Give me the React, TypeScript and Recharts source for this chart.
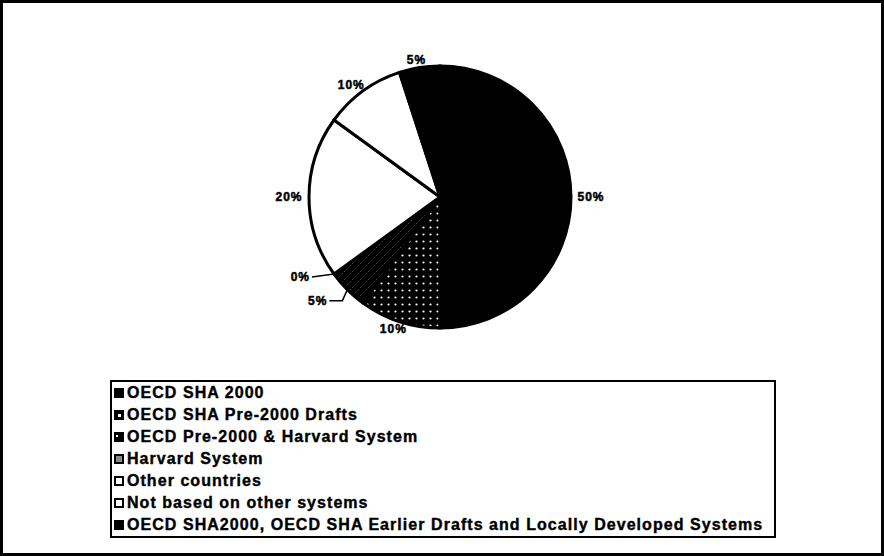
import { PieChart, Pie, Cell, Legend } from 'recharts';

const categories = [
  'OECD SHA 2000',
  'OECD SHA Pre-2000 Drafts',
  'OECD Pre-2000 & Harvard System',
  'Harvard System',
  'Other countries',
  'Not based on other systems',
  'OECD SHA2000, OECD SHA Earlier Drafts and Locally Developed Systems',
];

const shares = [50, 10, 5, 0, 20, 10, 5];

const sliceFills = ['#000', 'url(#dotFill)', 'url(#lineFill)', 'url(#grayFill)', '#fff', '#fff', '#000'];

const data = categories.map((name, i) => ({ name, value: shares[i] }));

const RADIAN = Math.PI / 180;
const font = '"Liberation Sans", Arial, Helvetica, sans-serif';

const labelStyle = {
  fontFamily: font,
  fontWeight: 700,
  fontSize: 12,
  letterSpacing: 1,
  fill: '#000',
  stroke: '#000',
  strokeWidth: 0.5,
};

function renderLabel(props: any) {
  const { cx, cy, midAngle, outerRadius, value } = props;
  const cos = Math.cos(-midAngle * RADIAN);
  const sin = Math.sin(-midAngle * RADIAN);
  const text = `${value}%`;

  // small slices in the lower left get a leader line
  if (value <= 5 && sin > 0 && cos < 0) {
    const sx = cx + outerRadius * cos;
    const sy = cy + outerRadius * sin;
    let pts: string;
    let ex: number;
    let ey: number;
    if (value === 0) {
      ex = sx - 22;
      ey = sy + 3;
      pts = `${sx},${sy} ${ex},${ey}`;
    } else {
      ex = sx - 18;
      ey = sy + 11;
      pts = `${sx},${sy} ${sx - 5},${ey} ${ex},${ey}`;
    }
    return (
      <g>
        <polyline points={pts} fill="none" stroke="#000" strokeWidth={1.5} />
        <text x={ex - 2} y={ey} textAnchor="end" dominantBaseline="central" style={labelStyle}>
          {text}
        </text>
      </g>
    );
  }

  const x = cx + (outerRadius + 20) * cos;
  const y = cy + (outerRadius + 8) * sin;
  return (
    <text x={x} y={y} textAnchor="middle" dominantBaseline="central" style={labelStyle}>
      {text}
    </text>
  );
}

function Marker({ index }: { index: number }) {
  const base = { width: 10, height: 10, boxSizing: 'border-box' as const, marginRight: 3, flexShrink: 0, position: 'relative' as const };
  if (index === 4 || index === 5) {
    return <div style={{ ...base, background: '#fff', border: '2px solid #000' }} />;
  }
  if (index === 3) {
    return <div style={{ ...base, background: '#8a8a8a', border: '2px solid #000' }} />;
  }
  return (
    <div style={{ ...base, background: '#000' }}>
      {index === 1 && (
        <div style={{ position: 'absolute', left: 4, top: 4, width: 3, height: 3, background: '#fff' }} />
      )}
      {index === 2 && (
        <div style={{ position: 'absolute', left: 2, top: 3, width: 2, height: 2, background: '#fff' }} />
      )}
    </div>
  );
}

function renderLegend() {
  return (
    <div
      style={{
        width: 666,
        height: 158,
        boxSizing: 'border-box',
        border: '2px solid #000',
        background: '#fff',
        paddingLeft: 2,
      }}
    >
      {categories.map((name, i) => (
        <div
          key={name}
          style={{
            display: 'flex',
            alignItems: 'center',
            height: 22,
            fontFamily: font,
            fontWeight: 700,
            fontSize: 16,
            letterSpacing: 1.05,
            color: '#000',
            whiteSpace: 'nowrap',
            WebkitTextStroke: '0.4px #000',
          }}
        >
          <Marker index={i} />
          <span>{name}</span>
        </div>
      ))}
    </div>
  );
}

export default function App() {
  return (
    <div style={{ position: 'absolute', left: 0, top: 0, width: 884, height: 556, background: '#fff' }}>
      <PieChart width={884} height={556} margin={{ top: 0, right: 0, bottom: 0, left: 0 }}>
        <defs>
          <pattern id="dotFill" width={7} height={7} patternUnits="userSpaceOnUse">
            <rect width={7} height={7} fill="#000" />
            <circle cx={3.5} cy={3.5} r={1.1} fill="#fff" />
          </pattern>
          <pattern id="lineFill" width={8} height={8} patternUnits="userSpaceOnUse">
            <rect width={8} height={8} fill="#000" />
            <line x1={0} y1={8} x2={8} y2={0} stroke="#777" strokeWidth={0.6} strokeDasharray="2 2" />
          </pattern>
          <pattern id="grayFill" width={4} height={4} patternUnits="userSpaceOnUse">
            <rect width={4} height={4} fill="#888" />
            <rect width={2} height={2} fill="#fff" />
          </pattern>
        </defs>
        <Pie
          data={data}
          dataKey="value"
          nameKey="name"
          cx={440}
          cy={197}
          outerRadius={131}
          startAngle={90}
          endAngle={-270}
          stroke="#000"
          strokeWidth={3}
          label={renderLabel}
          labelLine={false}
          isAnimationActive={false}
        >
          {data.map((entry, index) => (
            <Cell key={`cell-${index}`} fill={sliceFills[index]} />
          ))}
        </Pie>
        <Legend
          content={renderLegend}
          wrapperStyle={{ position: 'absolute', left: 110, top: 380, width: 666 }}
        />
      </PieChart>
      <div
        style={{
          position: 'absolute',
          left: 0,
          top: 0,
          width: 884,
          height: 556,
          boxSizing: 'border-box',
          border: '3px solid #000',
          pointerEvents: 'none',
        }}
      />
    </div>
  );
}
